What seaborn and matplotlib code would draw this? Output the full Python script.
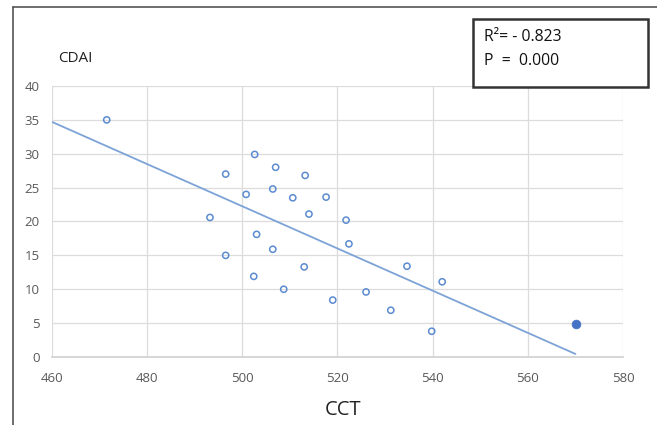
import matplotlib
matplotlib.use("Agg")
import matplotlib.pyplot as plt
from matplotlib.patches import Rectangle
import seaborn as sns
import pandas as pd

# Data
cct = [471.5, 496.5, 493.2, 496.5, 502.6, 500.8, 503.0, 502.4, 507.0, 506.4,
       506.4, 508.7, 510.6, 513.2, 514.0, 513.0, 517.6, 521.8, 522.4, 519.0,
       526.0, 531.2, 534.6, 542.0, 539.8]
cdai = [35.0, 27.0, 20.6, 15.0, 29.9, 24.0, 18.1, 11.9, 28.0, 24.8,
        15.9, 10.0, 23.5, 26.8, 21.1, 13.3, 23.6, 20.2, 16.7, 8.4,
        9.6, 6.9, 13.4, 11.1, 3.8]
highlight_cct = [570.1]
highlight_cdai = [4.9]
trend_x = [460, 570]
trend_y = [34.7, 0.45]
x_ticks = [460, 480, 500, 520, 540, 560, 580]
y_ticks = [0, 5, 10, 15, 20, 25, 30, 35, 40]
stats_text = "R\u00b2= - 0.823\nP  =  0.000"

sns.set_theme(style="white")
plt.rcParams['font.family'] = ['Open Sans', 'DejaVu Sans']

fig = plt.figure(figsize=(6.57, 4.25), dpi=100)
ax = fig.add_axes([52/657, 1-357/425, (623-52)/657, (357-86)/425])

df = pd.DataFrame({"CCT": cct, "CDAI": cdai})
dfh = pd.DataFrame({"CCT": highlight_cct, "CDAI": highlight_cdai})
dft = pd.DataFrame({"x": trend_x, "y": trend_y})

sns.lineplot(data=dft, x="x", y="y", ax=ax, color="#7da3d6", linewidth=1.3, zorder=3)
sns.scatterplot(data=df, x="CCT", y="CDAI", ax=ax, marker="o", s=20,
                facecolor="none", edgecolor="#5b8bd0", linewidth=1.1, zorder=4)
sns.scatterplot(data=dfh, x="CCT", y="CDAI", ax=ax, marker="o", s=40,
                color="#4472c4", edgecolor="#4472c4", linewidth=0.5, zorder=4)

ax.set_xlim(460, 580)
ax.set_ylim(0, 40)
ax.set_xticks(x_ticks)
ax.set_yticks(y_ticks)
ax.grid(True, color="#dcdcdc", linewidth=0.9)
ax.set_axisbelow(True)
for s in ["top", "right", "left"]:
    ax.spines[s].set_visible(False)
ax.spines["bottom"].set_color("#d0d0d0")
ax.spines["bottom"].set_linewidth(1.2)
ax.tick_params(axis="both", colors="#595959", labelsize=9.5, length=0)
ax.tick_params(axis="x", pad=11)
ax.tick_params(axis="y", pad=9)
ax.set_xlabel("")
ax.set_ylabel("")

fig.text(58/657, 1-58/425, "CDAI", fontsize=11, color="#222222", va="center", ha="left")
fig.text(325/657, 1-410/425, "CCT", fontsize=14.5, color="#222222", va="center", ha="left")

fig.text(484/657, 1-49/425, stats_text, fontsize=11.3, color="#111111",
         va="center", ha="left", linespacing=1.6)
fig.patches.append(Rectangle((473/657, 1-87/425), 175/657, 68/425, transform=fig.transFigure,
                             fill=True, facecolor="white", edgecolor="#333333", linewidth=1.8, zorder=1))
fig.lines.append(plt.Line2D([13/657, 13/657], [0, 1-7/425], transform=fig.transFigure,
                            color="#555555", linewidth=1.2))
fig.lines.append(plt.Line2D([13/657, 1], [1-7/425, 1-7/425], transform=fig.transFigure,
                            color="#555555", linewidth=1.2))

fig.savefig("out.png", dpi=100)
